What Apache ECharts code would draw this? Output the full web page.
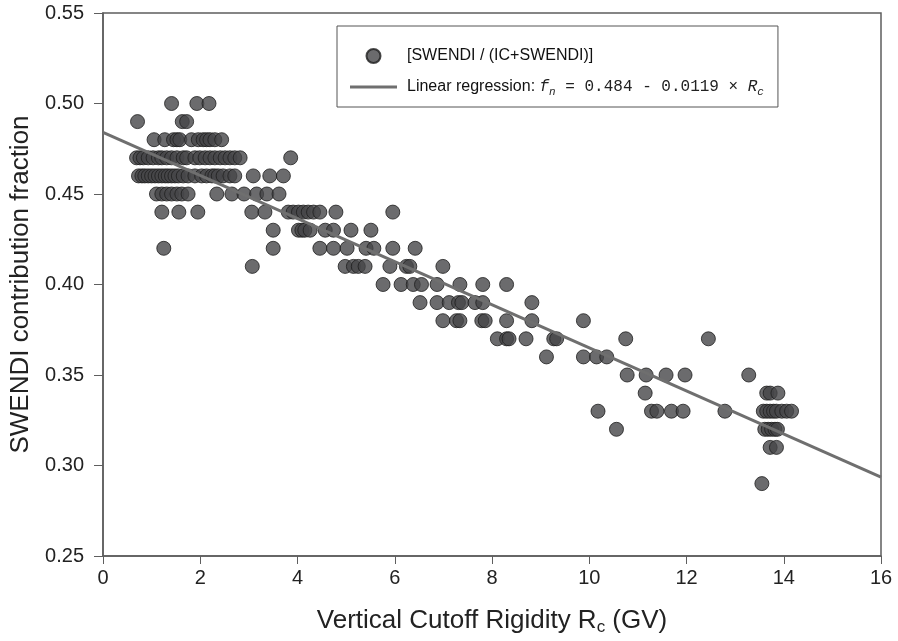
<!DOCTYPE html>
<html>
<head>
<meta charset="utf-8">
<script src="https://cdn.jsdelivr.net/npm/echarts@6/dist/echarts.min.js"></script>
<style>
html, body { margin: 0; padding: 0; background: #fff; }
#chart { width: 898px; height: 641px; }
</style>
</head>
<body>
<div id="chart"></div>
<script>
// fraction levels (rows) and the rigidities (GV) of the points on each row
var rowFraction = [0.50, 0.49, 0.48, 0.47, 0.46, 0.45, 0.44, 0.43, 0.42, 0.41, 0.40, 0.39, 0.38, 0.37, 0.36, 0.35, 0.34, 0.33, 0.32, 0.31, 0.29];
var rowRigidity = [
	[1.41, 1.93, 2.18],
	[0.71, 1.63, 1.72],
	[1.05, 1.27, 1.45, 1.52, 1.58, 1.82, 1.96, 2.06, 2.13, 2.20, 2.30, 2.44],
	[0.69, 0.76, 0.83, 0.93, 1.03, 1.14, 1.21, 1.31, 1.41, 1.52, 1.65, 1.72, 1.89, 1.99, 2.10, 2.20, 2.30, 2.41, 2.51, 2.61, 2.71, 2.82, 3.86],
	[0.73, 0.80, 0.86, 0.93, 1.00, 1.07, 1.14, 1.21, 1.28, 1.34, 1.41, 1.48, 1.55, 1.65, 1.75, 1.89, 2.03, 2.13, 2.24, 2.30, 2.37, 2.47, 2.61, 2.71, 3.09, 3.43, 3.71],
	[1.10, 1.21, 1.31, 1.41, 1.52, 1.62, 1.75, 2.34, 2.65, 2.90, 3.16, 3.37, 3.62],
	[1.21, 1.56, 1.95, 3.06, 3.33, 3.81, 3.91, 4.02, 4.12, 4.22, 4.33, 4.46, 4.79, 5.96],
	[3.50, 4.02, 4.09, 4.15, 4.26, 4.57, 4.74, 5.10, 5.51],
	[1.25, 3.50, 4.46, 4.74, 5.02, 5.41, 5.57, 5.96, 6.42],
	[3.07, 4.98, 5.15, 5.25, 5.39, 5.90, 6.24, 6.31, 6.99],
	[5.76, 6.13, 6.38, 6.55, 6.87, 7.34, 7.81, 8.30],
	[6.52, 6.87, 7.12, 7.31, 7.38, 7.65, 7.81, 8.82],
	[6.99, 7.27, 7.34, 7.79, 7.86, 8.30, 8.82, 9.88],
	[8.11, 8.30, 8.35, 8.70, 9.27, 9.33, 10.75, 12.45],
	[9.12, 9.88, 10.15, 10.36],
	[10.78, 11.17, 11.58, 11.97, 13.28],
	[11.15, 13.65, 13.72, 13.88],
	[10.18, 11.28, 11.39, 11.69, 11.93, 12.79, 13.58, 13.65, 13.72, 13.79, 13.85, 13.96, 14.06, 14.16],
	[10.56, 13.61, 13.68, 13.75, 13.82, 13.87],
	[13.72, 13.85],
	[13.55]
];
// regression line end points
var regRigidity = [0, 16];
var regFraction = [0.484, 0.2936];

var scatterData = [];
rowFraction.forEach(function (v, i) {
	rowRigidity[i].forEach(function (r) {
		scatterData.push([r, v]);
	});
});
var lineData = regRigidity.map(function (r, i) { return [r, regFraction[i]]; });

var axisColor = '#5e5e5e';
var font = '"Liberation Sans", Arial, sans-serif';
var mono = '"Liberation Mono", "DejaVu Sans Mono", monospace';

var myChart = echarts.init(document.getElementById('chart'));
var option = {
	animation: false,
	grid: {
		left: 103,
		right: 17,
		top: 13,
		bottom: 82,
		show: true,
		borderColor: axisColor,
		borderWidth: 1.5
	},
	legend: {
		orient: 'vertical',
		left: 337,
		top: 26,
		padding: [22, 14, 9, 13],
		itemGap: 15,
		itemWidth: 47,
		itemHeight: 14,
		borderColor: '#555',
		borderWidth: 1,
		textStyle: {
			fontFamily: font,
			fontSize: 16,
			color: '#111',
			rich: {
				g: { width: 5, lineHeight: 22 },
				t: { fontFamily: font, fontSize: 16, color: '#111', lineHeight: 22 },
				fi: { fontFamily: mono, fontStyle: 'italic', fontSize: 16, color: '#222', lineHeight: 22 },
				m: { fontFamily: mono, fontSize: 16, color: '#222', lineHeight: 22 },
				sub: { fontFamily: mono, fontStyle: 'italic', fontSize: 11, color: '#222', lineHeight: 8, verticalAlign: 'bottom' }
			}
		},
		data: [
			{ name: 'scatter', icon: 'circle' },
			{ name: 'regression', icon: 'path://M0,0 M47,14 M0,5.5 L47,5.5 L47,8.5 L0,8.5 Z', itemStyle: { color: '#6f6f6f' } }
		],
		formatter: function (name) {
			if (name === 'scatter') {
				return '{g| }{t|[SWENDI / (IC+SWENDI)]}';
			}
			return '{g| }{t|Linear regression: }{fi|f}{sub|n}{m| = 0.484 - 0.0119 × }{fi|R}{sub|c}';
		}
	},
	xAxis: {
		type: 'value',
		min: 0,
		max: 16,
		interval: 2,
		name: '{a|Vertical Cutoff Rigidity R}{s|c}{a| (GV)}',
		nameLocation: 'middle',
		nameGap: 50,
		nameTextStyle: {
			rich: {
				a: { fontFamily: font, fontSize: 26, color: '#222', lineHeight: 30 },
				s: { fontFamily: font, fontSize: 17, color: '#222', lineHeight: 12, verticalAlign: 'bottom' }
			}
		},
		axisLine: { show: true, lineStyle: { color: axisColor, width: 1.5 } },
		axisTick: { show: true, length: 8, lineStyle: { color: axisColor } },
		axisLabel: { fontFamily: font, fontSize: 20, color: '#222', margin: 12 },
		splitLine: { show: false }
	},
	yAxis: {
		type: 'value',
		min: 0.25,
		max: 0.55,
		interval: 0.05,
		name: 'SWENDI contribution fraction',
		nameLocation: 'middle',
		nameGap: 65,
		nameTextStyle: { fontFamily: font, fontSize: 26, color: '#222' },
		axisLine: { show: true, lineStyle: { color: axisColor, width: 1.5 } },
		axisTick: { show: true, length: 9, lineStyle: { color: axisColor } },
		axisLabel: {
			fontFamily: font, fontSize: 20, color: '#222', margin: 19,
			formatter: function (v) { return v.toFixed(2); }
		},
		splitLine: { show: false }
	},
	series: [
		{
			name: 'scatter',
			type: 'scatter',
			symbol: 'circle',
			symbolSize: 14,
			itemStyle: { color: '#464649', borderColor: '#1e1e1e', borderWidth: 1 },
			data: scatterData,
			z: 2
		},
		{
			name: 'regression',
			type: 'line',
			symbol: 'none',
			lineStyle: { color: '#6f6f6f', width: 3 },
			itemStyle: { color: '#6f6f6f' },
			data: lineData,
			z: 3
		}
	]
};
myChart.setOption(option);
window.addEventListener('resize', function () {
	myChart.resize();
});
</script>
</body>
</html>
